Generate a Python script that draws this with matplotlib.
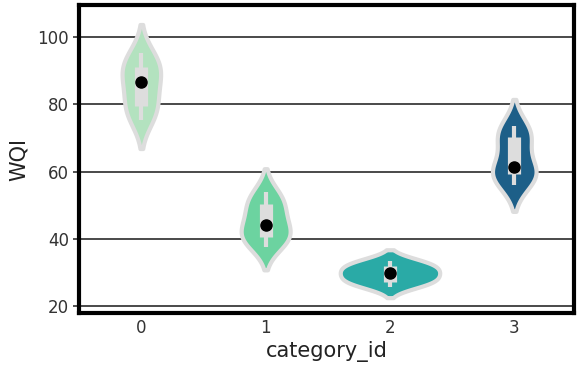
import matplotlib
matplotlib.use("Agg")
import matplotlib.pyplot as plt
import matplotlib.cbook as cbook
import numpy as np
import pandas as pd
import seaborn as sns

wqi_cat0 = [75.3, 77.2, 78.2, 79.8, 82.4, 85.6, 87.6, 89.4, 90.8, 91.8, 93.2, 95.3]
wqi_cat1 = [37.6, 39.2, 40.2, 40.8, 41.8, 43.0, 45.2, 47.0, 50.0, 50.8, 52.0, 54.0]
wqi_cat2 = [25.7, 26.8, 27.1, 27.3, 28.8, 29.5, 29.9, 30.7, 31.6, 32.4, 32.9, 33.5]
wqi_cat3 = [56.0, 58.2, 58.8, 59.4, 60.0, 60.8, 62.0, 69.6, 70.2, 70.8, 71.6, 73.6]

categories = [0, 1, 2, 3]
colors = ["#b3e2bf", "#6cd3a0", "#2aaaa6", "#1d5f88"]
y_ticks = [20, 40, 60, 80, 100]

groups = [wqi_cat0, wqi_cat1, wqi_cat2, wqi_cat3]
df = pd.DataFrame({
    "category_id": np.repeat(categories, [len(g) for g in groups]),
    "WQI": np.concatenate(groups),
})
df["category_id"] = df["category_id"].astype(str)

fig = plt.figure(figsize=(5.78, 3.70), dpi=100)
ax = fig.add_axes([0.137, 0.154, 0.856, 0.832])

# grid lines behind the violins
for yv in y_ticks:
    ax.axhline(yv, color="#3a3a3a", linewidth=1.3, zorder=0)

sns.violinplot(data=df, x="category_id", y="WQI", hue="category_id",
               palette=colors, legend=False, inner=None, saturation=1,
               linecolor="#dddddd", linewidth=3, cut=1.7, bw_adjust=1.2,
               width=0.8, density_norm="area", common_norm=True,
               ax=ax, zorder=2)

# inner box: whiskers, IQR box, median dot
for i, g in enumerate(groups):
    st = cbook.boxplot_stats(np.array(g))[0]
    ax.plot([i, i], [st["whislo"], st["whishi"]], color="#dddddd",
            linewidth=3, solid_capstyle="butt", zorder=3)
    ax.plot([i, i], [st["q1"], st["q3"]], color="#dddddd",
            linewidth=9.5, solid_capstyle="butt", zorder=3)
    ax.plot(i, st["med"], "o", color="black", markersize=8, zorder=4)

ax.set_xlim(-0.5, 3.48)
ax.set_ylim(17.9, 109.5)
ax.set_yticks(y_ticks)
ax.set_xticks(range(len(categories)))
ax.set_xticklabels([str(c) for c in categories])

ax.tick_params(axis="y", labelsize=12, colors="#333333", length=4, width=1.2)
ax.tick_params(axis="x", labelsize=12, colors="#333333", length=0, pad=4)
ax.set_xlabel("category_id", fontsize=15, color="#222222", labelpad=3)
ax.set_ylabel("WQI", fontsize=15, color="#222222", labelpad=6)

for sp in ax.spines.values():
    sp.set_linewidth(3)
    sp.set_color("black")

fig.savefig("out.png", dpi=100)
